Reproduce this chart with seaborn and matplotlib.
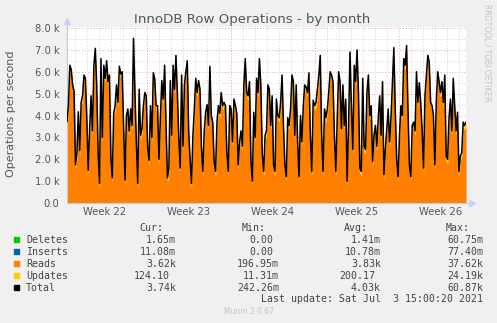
import numpy as np
import matplotlib
matplotlib.use("Agg")
import matplotlib.pyplot as plt
import seaborn as sns

# ---------------- data ----------------
title = "InnoDB Row Operations - by month"
y_label = "Operations per second"
week_labels = ["Week 22", "Week 23", "Week 24", "Week 25", "Week 26"]
span_days = 33.25          # visible time range (days)
first_week_boundary = 6.64  # days from left edge to start of Week 23

# Total operations (k ops/s), read left to right
total_seg1 = [3.72, 4.48, 6.3, 6.1, 5.4, 5.1, 1.74, 2.28, 4.17, 2.4, 4.6, 4.9, 5.85, 5.7,
              3.9, 1.5, 3.4, 4.9, 3.3, 6.3, 7.07, 5.4, 2.3, 0.9, 6.6, 3.0, 6.3, 5.7, 6.5,
              5.55, 5.85, 2.1, 1.15, 4.1, 4.45, 5.4, 4.6, 6.25, 5.9, 6.0, 3.55, 1.05, 4.0,
              4.3, 3.3, 4.3, 3.55, 7.53, 5.2, 2.8, 0.9, 5.2, 3.1, 3.4, 4.45, 5.05, 4.9,
              2.55, 1.95, 4.45, 3.0, 5.95, 5.7, 4.45, 4.45, 2.0, 3.9, 5.6, 4.75]
total_seg2 = [6.3, 3.55, 1.15, 1.6, 5.6, 3.1, 6.3, 5.2, 6.75, 5.05, 3.0, 1.6, 5.85, 2.6,
              5.4, 6.0, 6.5, 3.3, 2.0, 0.9, 3.1, 4.3, 5.7, 5.05, 5.6, 5.2, 2.6, 1.45, 3.3,
              4.15, 4.5, 3.55, 6.25, 4.0, 3.7, 1.9, 1.45, 3.7, 4.45, 4.1, 5.05, 4.45, 4.6,
              4.45, 2.3, 1.45, 4.45, 4.3, 2.8, 4.75, 4.45, 4.1, 1.75, 2.8, 3.3, 2.6, 5.4,
              6.6, 5.05, 4.9, 5.55, 1.9, 1.0, 4.15, 3.0, 5.7, 5.05, 6.6]
total_seg3 = [5.4, 2.25, 1.45, 3.1, 3.3, 5.4, 5.2, 3.55, 4.9, 1.75, 1.45, 4.75, 4.0, 3.9,
              4.6, 5.85, 3.55, 1.75, 1.2, 3.9, 3.55, 4.3, 5.85, 5.55, 3.1, 5.4, 2.8, 1.2,
              4.0, 2.8, 4.45, 5.4, 5.3, 5.05, 5.95, 3.1, 1.45, 4.7, 4.45, 4.6, 5.2, 5.85,
              6.75, 3.1, 1.45, 4.3, 3.9, 4.3, 5.05, 6.0, 5.85, 5.55, 3.1, 1.45, 3.9, 6.0,
              5.55, 3.4, 5.4, 3.55, 4.75, 1.0, 3.55, 6.9, 4.45, 2.45, 6.3, 5.55, 7.0, 5.05,
              1.6, 1.45]
total_seg4 = [5.7, 2.6, 2.45, 5.05, 5.85, 4.0, 4.45, 1.9, 3.1, 3.55, 2.6, 3.9, 4.9, 3.1,
              5.55, 1.3, 2.45, 3.4, 4.3, 2.8, 3.9, 5.55, 7.1, 4.3, 2.0, 1.2, 3.1, 4.45, 4.0,
              6.6, 6.3, 7.2, 4.3, 1.75, 1.2, 3.55, 3.7, 3.3, 6.0, 4.6, 5.5, 4.6, 3.3, 1.6,
              4.9, 5.85, 6.75, 6.45, 4.6, 4.45, 4.0, 1.75, 4.6, 6.0, 5.55, 5.05, 5.55, 4.6,
              5.85, 2.15, 2.0, 3.9, 4.75, 3.3, 5.7, 4.45, 3.3, 4.15, 1.45, 2.15, 2.3, 3.7,
              3.55, 3.7]
updates_level = 0.2  # k ops/s (legend average 200.17)

legend_names = ["Deletes", "Inserts", "Reads", "Updates", "Total"]
legend_colors = ["#00CC00", "#0066B3", "#FF8000", "#FFCC00", "#000000"]
cur_vals = ["1.65m", "11.08m", "3.62k", "124.10", "3.74k"]
min_vals = ["0.00", "0.00", "196.95m", "11.31m", "242.26m"]
avg_vals = ["1.41m", "10.78m", "3.83k", "200.17", "4.03k"]
max_vals = ["60.75m", "77.40m", "37.62k", "24.19k", "60.87k"]
last_update = "Last update: Sat Jul  3 15:00:20 2021"
version = "Munin 2.0.67"
side_text = "RRDTOOL / TOBI OETIKER"

# ---------------- figure ----------------
sns.set_style("white")
plt.rcParams["font.family"] = ["DejaVu Sans"]

W, H = 497, 323
fig = plt.figure(figsize=(W / 100, H / 100), dpi=100, facecolor="#F0F0F0")
ax = fig.add_axes([67 / W, 1 - 203 / H, 399 / W, 176 / H])
ax.set_facecolor("white")

total = np.array(total_seg1 + total_seg2 + total_seg3 + total_seg4)
t = np.linspace(0, span_days, len(total))
reads = total - updates_level

ymax = 8.0 * 176 / 175
ax.set_xlim(0, span_days)
ax.set_ylim(0, ymax)

# grid
for v in np.arange(0.5, 8.01, 0.5):
    major = abs(v - round(v)) < 1e-6
    ax.axhline(v, color="#F2A0A0" if major else "#D0D0D0", lw=0.7,
               linestyle=(0, (1, 2)), zorder=0.5, clip_on=False)
day_lines = np.arange(first_week_boundary - 6, span_days, 1.0)
week_bounds = np.arange(first_week_boundary, span_days, 7.0)
for d in day_lines:
    is_week = np.any(np.abs(week_bounds - d) < 1e-6)
    ax.axvline(d, color="#F2A0A0" if is_week else "#D0D0D0", lw=0.7,
               linestyle=(0, (1, 2)), zorder=0.5)

ax.fill_between(t, 0, reads, color="#FF8000", lw=0, zorder=2)
ax.fill_between(t, reads, total, color="#FFCC00", lw=0, zorder=2)
sns.lineplot(x=t, y=total, ax=ax, color="black", linewidth=1.1, zorder=3)

# axes styling
for s in ["top", "right"]:
    ax.spines[s].set_visible(False)
for s in ["left", "bottom"]:
    ax.spines[s].set_color("#C8C8DC")
    ax.spines[s].set_linewidth(0.8)
ax.plot([0], [1.035], marker="^", color="#CCCCFF", markersize=4, transform=ax.transAxes,
        clip_on=False, zorder=5)
ax.plot([1.015], [0], marker=">", color="#CCCCFF", markersize=4, transform=ax.transAxes,
        clip_on=False, zorder=5)
ax.plot([0, 0], [1.0, 1.035], color="#C8C8DC", lw=0.8, transform=ax.transAxes, clip_on=False)
ax.plot([1.0, 1.015], [0, 0], color="#C8C8DC", lw=0.8, transform=ax.transAxes, clip_on=False)

yt = np.arange(0, 8.01, 1.0)
ax.set_yticks(yt)
ax.set_yticklabels(["0.0"] + [f"{v:.1f} k" for v in yt[1:]])
ax.tick_params(axis="y", length=2, color="#AAAAAA", pad=3.5, labelsize=7.2, labelcolor="#555555")

ax.set_xticks(week_bounds)
ax.set_xticklabels([])
ax.set_xticks(np.arange(first_week_boundary - 3.5, span_days, 7.0), minor=True)
ax.set_xticklabels(week_labels, minor=True)
ax.tick_params(axis="x", which="major", length=2, color="#F2A0A0", direction="out")
ax.tick_params(axis="x", which="minor", length=0, pad=3, labelsize=7.2, labelcolor="#555555")
ax.set_xlabel("")
ax.set_ylabel("")

# texts
def fx(x):
    return x / W

def fy(y):
    return 1 - y / H

fig.text(fx(252), fy(20), title, ha="center", va="center", fontsize=9.6, color="#555555")
fig.text(fx(11), fy(114), y_label, rotation=90, ha="center", va="center", fontsize=8,
         color="#555555")
fig.text(fx(487), fy(4), side_text, rotation=270, ha="center", va="top", fontsize=5.5,
         color="#C4C4C4")

mono = "DejaVu Sans Mono"
fs = 7.1
tc = "#444444"
for x, h in zip([163, 266, 368, 470], ["Cur:", "Min:", "Avg:", "Max:"]):
    fig.text(fx(x), fy(228), h, ha="right", va="center", family=mono, fontsize=fs, color=tc)

row_y = [239.7, 251.7, 263.7, 275.7, 287.7]
for i, name in enumerate(legend_names):
    y = row_y[i]
    fig.patches.append(plt.Rectangle((fx(14), fy(y + 2.5)), 5 / W, 5 / H,
                                     transform=fig.transFigure, color=legend_colors[i]))
    fig.text(fx(26), fy(y), name, ha="left", va="center", family=mono, fontsize=fs, color=tc)
    for x, vals in zip([176, 279, 381, 483], [cur_vals, min_vals, avg_vals, max_vals]):
        v = vals[i]
        xx = x if v[-1] in "mk" else x - 6
        fig.text(fx(xx), fy(y), v, ha="right", va="center", family=mono, fontsize=fs, color=tc)

fig.text(fx(483), fy(299.5), last_update, ha="right", va="center", family=mono,
         fontsize=fs, color=tc)
fig.text(fx(249), fy(312), version, ha="center", va="center", fontsize=5.5, color="#C4C4C4")

fig.savefig("out.png", dpi=100, facecolor=fig.get_facecolor())
